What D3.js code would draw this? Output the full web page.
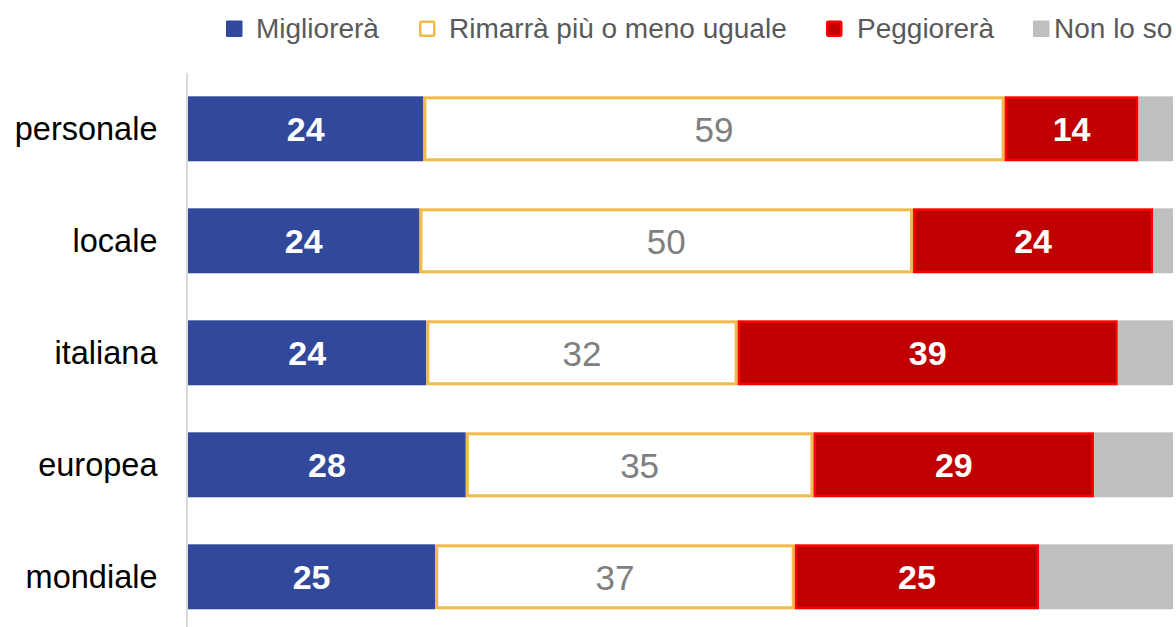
<!DOCTYPE html>
<html>
<head>
<meta charset="utf-8">
<script src="https://cdn.jsdelivr.net/npm/d3@7"></script>
<style>
  html, body { margin: 0; padding: 0; background: #ffffff; overflow: hidden; }
  svg { display: block; font-family: "Liberation Sans", Arial, sans-serif; }
</style>
</head>
<body>
<svg id="chart" width="1176" height="627"></svg>
<script>
// ---- data ----
const categories = ["personale", "locale", "italiana", "europea", "mondiale"];
const seriesNames = ["Migliorerà", "Rimarrà più o meno uguale", "Peggiorerà", "Non lo so"];
const migliorera = [23.9, 23.5, 24.2, 28.2, 25.1];
const rimarra    = [59.0, 50.1, 31.6, 35.3, 36.5];
const peggiorera = [13.6, 24.4, 38.6, 28.5, 24.8];
const nonLoSo    = [3.5, 2.0, 5.6, 8.0, 13.6];
const xDomain = [0, 100];

// ---- styles ----
const styles = [
  { fill: "#31489b", stroke: "none", sw: 0, label: "#ffffff", weight: "bold", size: 34 },
  { fill: "#ffffff", stroke: "#f0bb46", sw: 3, label: "#7f7f7f", weight: "normal", size: 35 },
  { fill: "#c00000", stroke: "#ff0000", sw: 2.5, label: "#ffffff", weight: "bold", size: 34 },
  { fill: "#bfbfbf", stroke: "none", sw: 0, label: null, weight: "normal", size: 34 }
];

const svg = d3.select("#chart");
const allSeries = [migliorera, rimarra, peggiorera, nonLoSo];

const rows = categories.map((c, i) => {
  const o = { cat: c };
  seriesNames.forEach((s, k) => o[s] = allSeries[k][i]);
  return o;
});
const stack = d3.stack().keys(seriesNames)(rows);

const x = d3.scaleLinear().domain(xDomain).range([188, 1173]);
const y = d3.scaleBand().domain(categories).range([72.8, 632.8])
  .paddingInner(0.42).paddingOuter(0.21);

// axis line
svg.append("line")
  .attr("x1", 187).attr("x2", 187)
  .attr("y1", y.range()[0]).attr("y2", 627)
  .attr("stroke", "#d9d9d9").attr("stroke-width", 2);

// category labels
const yAxis = d3.axisLeft(y).tickSize(0).tickPadding(0);
const ag = svg.append("g").attr("transform", "translate(157.5,0)").call(yAxis);
ag.select(".domain").remove();
ag.selectAll("text")
  .attr("font-size", 32.5)
  .attr("font-family", "'Liberation Sans', Arial, sans-serif")
  .attr("fill", "#000000")
  .attr("dy", "0.35em");

// bars
stack.forEach((layer, k) => {
  const st = styles[k];
  const g = svg.append("g");
  g.selectAll("rect").data(layer).join("rect")
    .attr("x", d => x(d[0]) + st.sw / 2)
    .attr("y", d => y(d.data.cat) + st.sw / 2)
    .attr("width", d => Math.max(0, x(d[1]) - x(d[0]) - st.sw))
    .attr("height", y.bandwidth() - st.sw)
    .attr("fill", st.fill)
    .attr("stroke", st.stroke)
    .attr("stroke-width", st.sw);
  if (st.label) {
    g.selectAll("text").data(layer).join("text")
      .attr("x", d => (x(d[0]) + x(d[1])) / 2)
      .attr("y", d => y(d.data.cat) + y.bandwidth() / 2)
      .attr("dy", "0.37em")
      .attr("text-anchor", "middle")
      .attr("font-size", st.size)
      .attr("font-weight", st.weight)
      .attr("fill", st.label)
      .text(d => Math.round(d[1] - d[0]));
  }
});

// legend
const legendX = [226, 419, 826, 1033];
const legendTextOff = [30, 30, 31, 21];
const lg = svg.append("g");
seriesNames.forEach((s, k) => {
  const st = styles[k];
  const sw = st.sw ? Math.min(st.sw, 2.5) : 0;
  lg.append("rect")
    .attr("x", legendX[k] + sw / 2)
    .attr("y", 20.5 + sw / 2)
    .attr("width", 16.5 - sw)
    .attr("height", 16.5 - sw)
    .attr("rx", 1)
    .attr("fill", st.fill)
    .attr("stroke", st.stroke)
    .attr("stroke-width", sw);
  lg.append("text")
    .attr("x", legendX[k] + legendTextOff[k])
    .attr("y", 37.5)
    .attr("font-size", 28)
    .attr("fill", "#595959")
    .text(s);
});
</script>
</body>
</html>
